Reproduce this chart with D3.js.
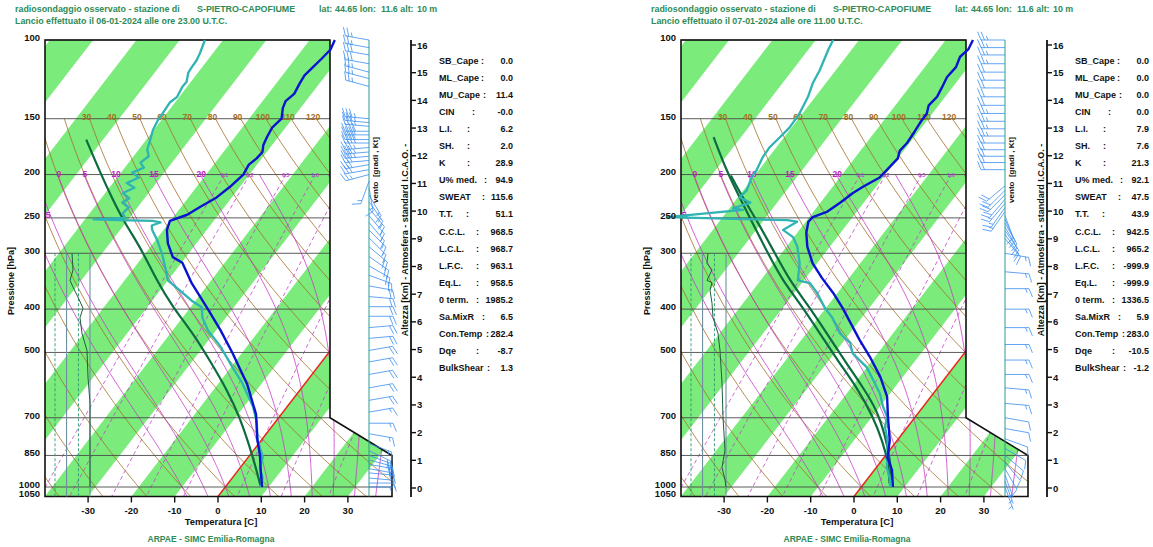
<!DOCTYPE html>
<html>
<head>
<meta charset="utf-8">
<script src="https://cdn.jsdelivr.net/npm/d3@7"></script>
<style>
body { margin: 0; background: #fff; }
text { font-family: "Liberation Sans", Arial, sans-serif; font-weight: bold; }
</style>
</head>
<body>
<svg id="chart" width="1153" height="547"></svg>
<script>
/*
*    skew-T  S-Pietro-Capofiume
*/
// ---- axes / background lines
var pressureTicks = [100, 150, 200, 250, 300, 400, 500, 700, 850, 1000, 1050];
var tempTicks = [-30, -20, -10, 0, 10, 20, 30];
var kmTicks = [0, 1, 2, 3, 4, 5, 6, 7, 8, 9, 10, 11, 12, 13, 14, 15, 16];
var bandStarts = [-160, -140, -120, -100, -80, -60, -40, -20, 0, 20, 40];
var dryAdiabats = [-40, -30, -20, -10, 0, 10, 20, 30, 40, 50, 60, 70, 80, 90, 100, 110, 120];
var dryLabels = [30, 40, 50, 60, 70, 80, 90, 100, 110, 120];
var moistAdiabats = [-10, -5, 0, 5, 10, 15, 20, 25, 30, 35];
var moistLabels = [0, 5, 10, 15, 20];
var mixRatios = [0.1, 0.2, 0.5, 1, 2, 5, 10, 20];
var mixLabels = [0.1, 0.2, 0.5, 1.0];
var rhGrid = [0, 33, 67, 100];
var indexNames = ["SB_Cape", "ML_Cape", "MU_Cape", "CIN", "L.I.", "SH.", "K", "U% med.", "SWEAT", "T.T.",
    "C.C.L.", "L.C.L.", "L.F.C.", "Eq.L.", "0 term.", "Sa.MixR", "Con.Temp", "Dqe", "BulkShear"];

// ---- sounding 1 : 06-01-2024 23 UTC
var launch1 = "Lancio effettuato il 06-01-2024 alle ore 23.00 U.T.C.";
var tempP1 = [100, 105, 110, 114, 120, 125, 132, 137, 142, 150, 157, 165, 172, 178, 184, 190, 200, 213, 225, 236, 246, 254, 266, 285, 306, 315, 350, 401, 445, 502, 588, 688, 778, 850, 925, 1000];
var tempT1 = [-54.2, -53.5, -53.9, -54.3, -54.9, -54.6, -54.0, -54.7, -54.1, -52.5, -53.1, -52.6, -52.0, -51.0, -51.2, -51.9, -51.4, -52.3, -53.5, -55.6, -57.2, -60.1, -59.2, -56.6, -53.0, -49.8, -44.0, -35.5, -29.1, -22.1, -13.3, -5.8, -1.3, 2.4, 5.5, 8.5];
var dewP1 = [100, 107, 111, 115, 118.5, 124, 127, 134, 138, 146, 151, 159, 167, 176, 182, 188, 193, 198, 203, 209, 214, 220, 226, 231, 237, 244, 250, 252, 253, 254, 256, 260, 266, 280, 300, 322, 345, 363, 383, 396, 418, 446, 485, 540, 585, 662, 719, 787, 858, 904, 952, 982, 1000];
var dewT1 = [-84.2, -83.0, -82.5, -82.4, -82.2, -81.0, -81.1, -80.5, -81.2, -80.9, -80.8, -80.2, -79.1, -78.0, -76.5, -77.3, -75.6, -77.4, -75.0, -76.8, -74.2, -75.9, -73.5, -74.4, -72.0, -72.4, -71.0, -78.0, -72.0, -64.1, -62.0, -63.5, -62.6, -59.7, -56.2, -53.0, -50.0, -45.5, -40.9, -37.4, -35.4, -31.9, -26.1, -19.6, -14.6, -7.8, -4.1, -0.8, 3.4, 4.5, 6.9, 7.8, 8.0];
var parcelP1 = [167, 198, 228, 257, 290, 345, 396, 453, 521, 606, 697, 857, 1000];
var parcelT1 = [-93.9, -84.8, -77.0, -70.1, -62.4, -52.6, -44.1, -34.8, -26.1, -16.9, -9.1, 1.1, 8.2];
var rhP1 = [300, 327, 345, 357, 376, 398, 418, 453, 495, 568, 649, 827, 1000];
var rh1 = [48.6, 51.4, 42.9, 51.4, 65.7, 80.0, 71.4, 77.1, 91.4, 94.3, 100, 100, 100];
var windP1 = [100, 104, 108, 113, 118, 122, 127, 150, 153, 156, 160, 163, 167, 170, 174, 178, 182, 186, 190, 195, 200,
    207, 214, 222, 230, 238, 247, 256, 266, 277, 290, 305, 320, 336, 355, 375, 395, 415, 440, 465, 495, 525, 560, 600, 640, 680,
    720, 760, 800, 830, 850, 870, 890, 910, 930, 955, 980, 1000];
var windDir1 = [280, 280, 280, 280, 285, 285, 285, 275, 275, 275, 270, 270, 270, 270, 265, 265, 265, 265, 260, 260, 255,
    200, 170, 150, 145, 140, 140, 140, 135, 135, 130, 125, 120, 110, 100, 95, 90, 90, 85, 85, 80, 80, 80, 80, 80, 80,
    90, 100, 110, 115, 110, 105, 100, 100, 95, 95, 90, 90];
var windSpd1 = [25, 25, 30, 30, 25, 25, 25, 35, 35, 35, 40, 40, 40, 40, 35, 35, 35, 30, 30, 30, 25,
    15, 15, 15, 15, 15, 15, 15, 15, 15, 20, 20, 20, 20, 20, 20, 20, 20, 20, 20, 20, 20, 20, 20, 20, 15,
    15, 15, 15, 20, 20, 20, 20, 15, 15, 10, 10, 5];
var indexValues1 = ["0.0", "0.0", "11.4", "-0.0", "6.2", "2.0", "28.9", "94.9", "115.6", "51.1", "968.5", "968.7", "963.1", "958.5", "1985.2", "6.5", "282.4", "-8.7", "1.3"];

// ---- sounding 2 : 07-01-2024 11 UTC
var launch2 = "Lancio effettuato il 07-01-2024 alle ore 11.00 U.T.C.";
var tempP2 = [100, 105, 109, 115, 121, 128, 134, 140, 146, 153, 160, 170, 177, 184, 196, 203, 213, 220, 231, 242, 249, 255, 270, 290, 316, 341, 368, 398, 470, 512, 567, 628, 697, 787, 859, 917, 1000];
var tempT2 = [-53.7, -53.1, -53.7, -52.8, -53.1, -52.4, -51.9, -52.3, -51.3, -51.2, -50.9, -50.6, -50.9, -50.0, -50.5, -50.8, -53.0, -54.2, -55.4, -56.8, -59.2, -59.4, -57.9, -55.2, -51.0, -46.2, -41.0, -36.1, -26.4, -21.1, -15.2, -10.1, -6.3, -1.7, 0.8, 4.1, 7.3];
var dewP2 = [100, 105, 117, 125, 134, 146, 157, 165, 174, 183, 196, 203, 217, 225, 231, 238, 240, 249, 253, 255, 266, 276, 290, 316, 345, 350, 368, 398, 418, 453, 476, 502, 540, 576, 617, 662, 697, 734, 787, 859, 904, 964, 1000];
var dewT2 = [-86.0, -85.4, -83.7, -83.0, -81.7, -80.7, -80.5, -81.0, -81.6, -81.4, -80.5, -80.4, -79.2, -79.6, -76.2, -79.2, -76.6, -92.9, -64.6, -62.0, -63.8, -60.2, -57.5, -54.0, -51.4, -48.1, -44.7, -40.2, -36.8, -32.3, -28.2, -25.8, -20.0, -16.3, -12.4, -9.2, -6.5, -5.2, -2.2, 0.8, 2.4, 5.4, 6.6];
var parcelAP2 = [165, 196, 225, 257, 306, 345, 388, 453, 529, 598, 697, 797, 882, 982];
var parcelAT2 = [-96.3, -87.4, -79.6, -72.0, -62.0, -54.9, -46.9, -36.9, -27.0, -18.8, -9.7, -2.8, 1.9, 5.9];
var parcelBP2 = [201, 225, 253, 295, 345, 388, 453, 529, 598, 672, 778, 859, 964];
var parcelBT2 = [-85.5, -78.9, -71.6, -62.5, -53.3, -45.3, -35.3, -25.4, -17.4, -10.1, -3.0, 1.3, 5.8];
var rhP2 = [300, 316, 327, 345, 349, 363, 388, 418, 453, 495, 585, 697, 827, 904, 964, 1000];
var rh2 = [48.6, 45.7, 60, 45.7, 60, 54.3, 60, 62.9, 77.1, 82.9, 88.6, 91.4, 97.1, 88.6, 97.1, 100];
var windP2 = [100, 104, 108, 113, 118, 123, 128, 134, 140, 146, 152, 158, 164, 170, 176, 182, 188, 195,
    212, 217, 222, 227, 232, 237, 242, 247, 252, 257, 262, 267, 272, 278,
    300, 330, 360, 400, 440, 480, 520, 560, 600, 650, 700, 740, 780, 820, 850, 880, 910, 940, 970, 1000];
var windDir2 = [270, 270, 270, 270, 270, 270, 270, 270, 270, 270, 270, 270, 270, 270, 270, 270, 270, 270,
    230, 225, 225, 220, 220, 215, 215, 160, 155, 150, 150, 145, 145, 140,
    100, 95, 90, 90, 90, 90, 90, 90, 95, 95, 100, 100, 110, 120, 130, 140, 150, 160, 160, 160];
var windSpd2 = [25, 25, 25, 25, 20, 20, 20, 20, 20, 25, 25, 25, 25, 20, 20, 20, 20, 20,
    20, 20, 20, 20, 15, 15, 15, 10, 10, 10, 10, 10, 10, 10,
    15, 15, 15, 15, 15, 15, 15, 15, 15, 15, 10, 10, 10, 10, 10, 10, 10, 5, 5, 5];
var indexValues2 = ["0.0", "0.0", "0.0", "0.0", "7.9", "7.6", "21.3", "92.1", "47.5", "43.9", "942.5", "965.2", "-999.9", "-999.9", "1336.5", "5.9", "283.0", "-10.5", "-1.2"];

// ---- layout
var panelOffsets = [0, 636];
var boxLeft = 45, boxRight = 330, boxRight2 = 392;
var windAxisX = 369, kmAxisX = 411;
var colonX = [481, 481, 483, 472, 467, 467, 467, 484, 482, 466, 476, 476, 476, 476, 476, 482, 486, 476, 487];
var green = "#2e8b57";

var svg = d3.select("#chart");

var y = d3.scaleLog().domain([100, 1000]).range([40, 487]);
var xT = d3.scaleLinear().domain([0, 10]).range([218, 261.3]);
var km = d3.scaleLinear().domain([0, 16]).range([488, 45]);
var rhX = d3.scaleLinear().domain([0, 100]).range([55, 90]);
var skew = 0.77;
var yBase = y(1050);

function sx(T, p) { return xT(T) + skew * (yBase - y(p)); }

function satE(Tc) { return 6.112 * Math.exp(17.67 * Tc / (Tc + 243.5)); }

function lapse(Tk, p) {
    var es = satE(Tk - 273.15), rs = 0.622 * es / (p - es);
    return (287.04 * Tk + 2.501e6 * rs) / (p * (1005.7 + 2.501e6 * 2.501e6 * rs * 0.622 / (287.04 * Tk * Tk)));
}

function moistPoints(thw) {
    var up = [], down = [], T = thw + 273.15, p;
    for (p = 1000; p >= 200; p -= 5) {
        up.push([p, T]);
        var k1 = lapse(T, p);
        var k2 = lapse(T - 2.5 * k1, p - 2.5);
        T = T - 5 * k2;
    }
    T = thw + 273.15;
    for (p = 1000; p < 1050; p += 5) {
        T = T + 5 * lapse(T, p);
        down.push([p + 5, T]);
    }
    return down.reverse().concat(up).map(function(d) { return [d[0], d[1] - 273.15]; });
}

function dryT(th, p) { return (th + 273.15) * Math.pow(p / 1000, 0.2857) - 273.15; }

function mixT(w, p) {
    var e = w * p / (622 + w), l = Math.log(e / 6.112);
    return 243.5 * l / (17.67 - l);
}

var line = d3.line().x(function(d) { return sx(d[1], d[0]); }).y(function(d) { return y(d[0]); });
var smooth = d3.line().curve(d3.curveBasis).x(function(d) { return sx(d[1], d[0]); }).y(function(d) { return y(d[0]); });

function zip(a, b) { return a.map(function(v, i) { return [v, b[i]]; }); }

function drawBarb(g, cx, cy, dir, spd) {
    var L = 24, r = dir * Math.PI / 180;
    var ux = Math.sin(r), uy = -Math.cos(r);
    var px = -uy, py = ux;
    var bx = px * 0.92 + ux * 0.38, by = py * 0.92 + uy * 0.38;
    var ex = cx + ux * L, ey = cy + uy * L;
    var path = "M" + cx + "," + cy + "L" + ex + "," + ey;
    var n10 = Math.floor(spd / 10), half = (spd % 10) >= 5;
    var pos = 0;
    for (var i = 0; i < n10; i++) {
        var ax = ex - ux * pos * 3.5, ay = ey - uy * pos * 3.5;
        path += "M" + ax + "," + ay + "L" + (ax + bx * 9) + "," + (ay + by * 9);
        pos++;
    }
    if (half) {
        if (pos === 0) pos = 1;
        var hx = ex - ux * pos * 3.5, hy = ey - uy * pos * 3.5;
        path += "M" + hx + "," + hy + "L" + (hx + bx * 4.5) + "," + (hy + by * 4.5);
    }
    g.append("path").attr("d", path).attr("fill", "none")
        .attr("stroke", "#3b8ef0").attr("stroke-width", 0.8);
}

function drawPanel(i, d) {
    var ox = panelOffsets[i];
    var g = svg.append("g").attr("transform", "translate(" + ox + ",0)");

    // header
    var h = g.append("g").attr("fill", green).attr("font-size", "8.9px");
    h.append("text").attr("x", 15).attr("y", 12).text("radiosondaggio osservato - stazione di");
    h.append("text").attr("x", 197).attr("y", 12).text("S-PIETRO-CAPOFIUME");
    h.append("text").attr("x", 319).attr("y", 12).text("lat:");
    h.append("text").attr("x", 335).attr("y", 12).text("44.65 lon:");
    h.append("text").attr("x", 381).attr("y", 12).text("11.6 alt:");
    h.append("text").attr("x", 417).attr("y", 12).text("10 m");
    h.append("text").attr("x", 15).attr("y", 23.5).text(d.launch);

    var shape = [[boxLeft, y(100)], [boxRight, y(100)], [boxRight, y(700)], [boxRight2, y(850)],
        [boxRight2, yBase], [boxLeft, yBase]];
    var shapePts = shape.map(function(p) { return p.join(","); }).join(" ");
    g.append("clipPath").attr("id", "clip" + i)
        .append("polygon").attr("points", shapePts);

    var bg = g.append("g").attr("clip-path", "url(#clip" + i + ")");
    bg.append("polygon").attr("points", shapePts).attr("fill", "#fff");

    // green temperature bands
    bg.selectAll(".band").data(bandStarts).enter().append("polygon")
        .attr("points", function(t) {
            return [[sx(t, 100), y(100)], [sx(t + 10, 100), y(100)], [sx(t + 10, 1050), yBase], [sx(t, 1050), yBase]]
                .map(function(p) { return p.join(","); }).join(" ");
        })
        .attr("fill", "#7beb7b");

    // dry adiabats
    var pDry = d3.range(150, 1051, 10);
    bg.selectAll(".dry").data(dryAdiabats).enter().append("path")
        .attr("d", function(th) { return line(pDry.map(function(p) { return [p, dryT(th, p)]; })); })
        .attr("fill", "none").attr("stroke", "#a2702a").attr("stroke-width", 0.8);

    // moist adiabats
    bg.selectAll(".moist").data(moistAdiabats).enter().append("path")
        .attr("d", function(th) { return line(moistPoints(th)); })
        .attr("fill", "none").attr("stroke", "#c837c8").attr("stroke-width", 0.8);

    // mixing ratio
    var pMix = d3.range(200, 1051, 10);
    bg.selectAll(".mix").data(mixRatios).enter().append("path")
        .attr("d", function(w) { return line(pMix.map(function(p) { return [p, mixT(w, p)]; })); })
        .attr("fill", "none").attr("stroke", "#c040c8").attr("stroke-width", 0.8)
        .attr("stroke-dasharray", "4,3");

    // 0 C isotherm
    bg.append("path").attr("d", line([[1050, 0], [100, 0]]))
        .attr("stroke", "#e8281e").attr("stroke-width", 1.5);

    // isobars
    g.selectAll(".isobar").data(pressureTicks.slice(0, -1)).enter().append("line")
        .attr("x1", boxLeft)
        .attr("x2", function(p) { return p <= 700 ? boxRight : boxRight2; })
        .attr("y1", function(p) { return y(p); })
        .attr("y2", function(p) { return y(p); })
        .attr("stroke", "#4a4a4a").attr("stroke-width", 0.9);

    // outline
    g.append("polygon").attr("points", shapePts)
        .attr("fill", "none").attr("stroke", "#111").attr("stroke-width", 1.6);

    // labels of background lines
    g.selectAll(".drylab").data(dryLabels).enter().append("text")
        .attr("x", function(th) { return sx(dryT(th, 150), 150) - 3; })
        .attr("y", y(150) + 0.8)
        .attr("text-anchor", "middle").attr("font-size", "8.5px").attr("font-weight", "normal")
        .attr("fill", "#a2701e").text(function(th) { return th; });
    g.selectAll(".moistlab").data(moistLabels).enter().append("text")
        .attr("x", function(th) { var m = moistPoints(th); return sx(m[m.length - 1][1], 200) + 1; })
        .attr("y", y(200) + 2.5)
        .attr("text-anchor", "middle").attr("font-size", "8.5px")
        .attr("fill", "#c020c8").text(function(th) { return th; });
    g.selectAll(".mixlab").data(mixLabels).enter().append("text")
        .attr("x", function(w) { return sx(mixT(w, 200), 200); })
        .attr("y", y(200) + 2)
        .attr("text-anchor", "middle").attr("font-size", "5.5px")
        .attr("fill", "#c040c8").text(function(w) { return w.toFixed(1); });
    g.append("text").attr("x", boxLeft + 3).attr("y", y(250) + 0.5)
        .attr("text-anchor", "middle").attr("font-size", "8.5px").attr("fill", "#c020c8").text("5");

    // RH mini panel
    g.selectAll(".rhgrid").data(rhGrid).enter().append("line")
        .attr("x1", function(v) { return rhX(v); }).attr("x2", function(v) { return rhX(v); })
        .attr("y1", y(300)).attr("y2", yBase)
        .attr("stroke", function(v, j) { return j % 2 === 0 ? "#2a9a70" : "#6f8fa0"; })
        .attr("stroke-width", function(v, j) { return j % 2 === 0 ? 0.9 : 1.1; })
        .attr("stroke-dasharray", function(v, j) { return j % 2 === 0 ? "3,2" : null; });
    g.append("path").datum(zip(d.rhP, d.rh))
        .attr("d", d3.line().x(function(v) { return rhX(v[1]); }).y(function(v) { return y(v[0]); }))
        .attr("fill", "none").attr("stroke", "#1d5e3c").attr("stroke-width", 1);

    // profiles
    d.parcels.forEach(function(pc) {
        g.append("path").datum(pc).attr("d", smooth)
            .attr("fill", "none").attr("stroke", "#0d6b40").attr("stroke-width", 2.2);
    });
    g.append("path").datum(zip(d.dewP, d.dewT)).attr("d", line)
        .attr("fill", "none").attr("stroke", "#2fb3b3").attr("stroke-width", 2.3)
        .attr("stroke-linejoin", "round");
    g.append("path").datum(zip(d.tempP, d.tempT)).attr("d", line)
        .attr("fill", "none").attr("stroke", "#0a14d0").attr("stroke-width", 2.4)
        .attr("stroke-linejoin", "round");

    // temperature axis
    g.selectAll(".ttick").data(tempTicks).enter().append("line")
        .attr("x1", function(t) { return xT(t); }).attr("x2", function(t) { return xT(t); })
        .attr("y1", yBase).attr("y2", yBase + 6)
        .attr("stroke", "#111").attr("stroke-width", 1.4);
    g.selectAll(".tlab").data(tempTicks).enter().append("text")
        .attr("x", function(t) { return xT(t); }).attr("y", yBase + 18)
        .attr("text-anchor", "middle").attr("font-size", "9.5px").attr("fill", "#111")
        .text(function(t) { return t; });
    g.append("text").attr("x", 221).attr("y", 525).attr("text-anchor", "middle")
        .attr("font-size", "9.5px").attr("fill", "#111").text("Temperatura [C]");
    g.append("text").attr("x", 211).attr("y", 542).attr("text-anchor", "middle")
        .attr("font-size", "8.5px").attr("fill", green).text("ARPAE - SIMC  Emilia-Romagna");

    // pressure axis labels
    g.selectAll(".plab").data(pressureTicks).enter().append("text")
        .attr("x", 40).attr("y", function(p) { return y(p) + 0.8; })
        .attr("text-anchor", "end").attr("font-size", "9.5px").attr("fill", "#111")
        .text(function(p) { return p; });
    g.append("text").attr("transform", "translate(14,281) rotate(-90)")
        .attr("text-anchor", "middle").attr("font-size", "9px").attr("fill", "#111")
        .text("Pressione [hPa]");

    // wind axis + barbs
    g.append("line").attr("x1", windAxisX).attr("x2", windAxisX).attr("y1", y(100)).attr("y2", yBase)
        .attr("stroke", "#2a9d8a").attr("stroke-width", 1);
    var wg = g.append("g");
    d.windP.forEach(function(p, j) { drawBarb(wg, windAxisX, y(p), d.windDir[j], d.windSpd[j]); });
    g.append("text").attr("transform", "translate(378,170) rotate(-90)")
        .attr("text-anchor", "middle").attr("font-size", "8px").attr("fill", "#111")
        .attr("xml:space", "preserve").text("vento  [gradi , Kt]");

    // height axis
    g.append("line").attr("x1", kmAxisX).attr("x2", kmAxisX).attr("y1", 40).attr("y2", 497)
        .attr("stroke", "#111").attr("stroke-width", 1.8);
    g.selectAll(".ktick").data(kmTicks).enter().append("line")
        .attr("x1", kmAxisX).attr("x2", kmAxisX + 5)
        .attr("y1", function(k) { return km(k); }).attr("y2", function(k) { return km(k); })
        .attr("stroke", "#111").attr("stroke-width", 1.4);
    g.selectAll(".klab").data(kmTicks).enter().append("text")
        .attr("x", kmAxisX + 6).attr("y", function(k) { return km(k) + 3.5; })
        .attr("font-size", "9.5px").attr("fill", "#111").text(function(k) { return k; });
    g.append("text").attr("transform", "translate(408,240) rotate(-90)")
        .attr("text-anchor", "middle").attr("font-size", "9px").attr("fill", "#111")
        .text("Altezza [Km] - Atmosfera - standard I.C.A.O. -");

    // indices
    var ig = g.append("g").attr("font-size", "9px").attr("fill", "#111");
    indexNames.forEach(function(n, j) {
        var yy = 63.5 + j * 17.1;
        ig.append("text").attr("x", 439).attr("y", yy).text(n);
        ig.append("text").attr("x", colonX[j]).attr("y", yy).text(":");
        ig.append("text").attr("x", 513).attr("y", yy).attr("text-anchor", "end").text(d.values[j]);
    });
}

drawPanel(0, {
    launch: launch1,
    tempP: tempP1, tempT: tempT1, dewP: dewP1, dewT: dewT1,
    parcels: [zip(parcelP1, parcelT1)],
    rhP: rhP1, rh: rh1,
    windP: windP1, windDir: windDir1, windSpd: windSpd1,
    values: indexValues1
});
drawPanel(1, {
    launch: launch2,
    tempP: tempP2, tempT: tempT2, dewP: dewP2, dewT: dewT2,
    parcels: [zip(parcelAP2, parcelAT2), zip(parcelBP2, parcelBT2)],
    rhP: rhP2, rh: rh2,
    windP: windP2, windDir: windDir2, windSpd: windSpd2,
    values: indexValues2
});
</script>
</body>
</html>
